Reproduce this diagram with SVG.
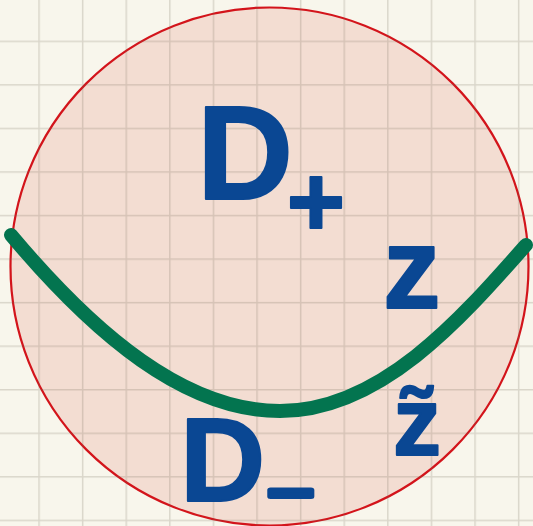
<svg xmlns="http://www.w3.org/2000/svg" width="533" height="526" viewBox="0 0 533 526">
<defs>
<pattern id="grid" x="38.3" y="40.6" width="43.6" height="43.55" patternUnits="userSpaceOnUse">
<path d="M0.75 0 V43.55 M0 0.75 H43.6" fill="none" stroke="rgba(110,100,80,0.22)" stroke-width="1.5"/>
</pattern>
<style>
.lbl{font-family:"Liberation Sans",Arial,sans-serif;font-weight:bold;fill:#0a4793;stroke:#0a4793;stroke-width:2;stroke-linejoin:round}
</style>
</defs>
<rect width="533" height="526" fill="#f8f6ec"/>
<g id="disk">
<circle cx="269.5" cy="266.5" r="259" fill="#f3ddd2" stroke="#d3141b" stroke-width="2.2"/>
</g>
<rect width="533" height="526" fill="url(#grid)"/>
<g id="connectors">
<path d="M11 235 C95 335 185 411 280 411 C380 411 460 320 526 245" fill="none" stroke="#03744f" stroke-width="14" stroke-linecap="round"/>
</g>
<g id="Dplus">
<text class="lbl" x="197" y="199" font-size="133">D</text>
<text class="lbl" x="316" y="236" font-size="100" text-anchor="middle">+</text>
</g>
<g id="z">
<text class="lbl" x="383" y="308" font-size="115">z</text>
</g>
<g id="ztilde">
<text class="lbl" x="393" y="455" font-size="96">z&#x303;</text>
</g>
<g id="Dminus">
<text class="lbl" x="180" y="501" font-size="118">D</text>
<text class="lbl" x="267" y="513" font-size="60" textLength="47" lengthAdjust="spacingAndGlyphs" style="stroke-width:5">&#x2212;</text>
</g>
</svg>
